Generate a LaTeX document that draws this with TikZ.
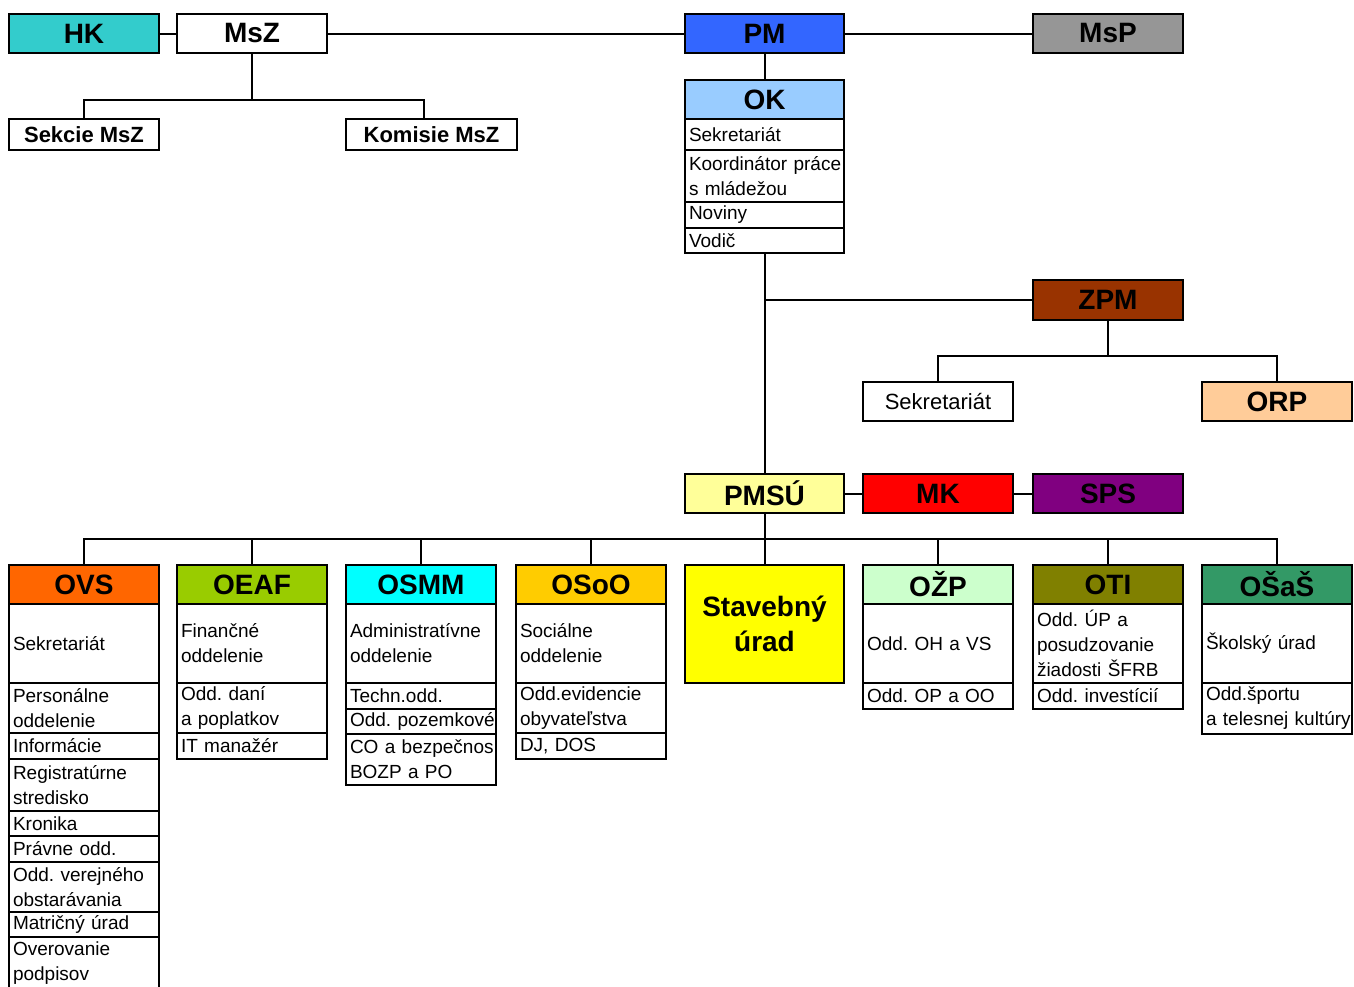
\documentclass[tikz,border=0pt]{standalone}
\usepackage{fontspec}
\setmainfont{Liberation Sans}
\definecolor{hkcol}{HTML}{33CCCC}
\definecolor{pmcol}{HTML}{3366FF}
\definecolor{mspcol}{HTML}{969696}
\definecolor{okcol}{HTML}{99CCFF}
\definecolor{zpmcol}{HTML}{993300}
\definecolor{orpcol}{HTML}{FFCC99}
\definecolor{pmsucol}{HTML}{FFFF99}
\definecolor{mkcol}{HTML}{FF0000}
\definecolor{spscol}{HTML}{800080}
\definecolor{ovscol}{HTML}{FF6600}
\definecolor{oeafcol}{HTML}{99CC00}
\definecolor{osmmcol}{HTML}{00FFFF}
\definecolor{osoocol}{HTML}{FFCC00}
\definecolor{stavcol}{HTML}{FFFF00}
\definecolor{ozpcol}{HTML}{CCFFCC}
\definecolor{oticol}{HTML}{808000}
\definecolor{osascol}{HTML}{339966}
\newcommand\hdfont{\bfseries\fontsize{28}{35}\selectfont}
\newcommand\subfont{\bfseries\fontsize{22}{26}\selectfont}
\newcommand\clfont{\frenchspacing\fontsize{19}{25}\selectfont}
\begin{document}
\begin{tikzpicture}[x=1pt,y=-1pt]
	\tikzset{head/.style = {draw,line width=2.6pt,anchor=north west,outer sep=0pt,minimum width=150pt,minimum height=39pt,inner sep=0pt,font=\hdfont}}
	\tikzset{sub/.style = {draw,line width=2.6pt,anchor=north west,outer sep=0pt,minimum width=150pt,minimum height=31pt,inner sep=0pt,font=\subfont}}
	\tikzset{cell/.style = {draw,line width=1.6pt,anchor=north west,outer sep=0pt,text width=142pt,inner xsep=4pt,inner ysep=0pt,align=left,font=\clfont}}
	\tikzset{frame/.style = {draw,line width=2.4pt}}
	\tikzset{link/.style = {draw,line width=2pt}}
	\useasboundingbox (0,0) rectangle (1354,986);
	\clip (0,0) rectangle (1354,986);
	% top row
	\node[head,fill=hkcol] (hk) at (9,14) {HK};
	\node[head] (msz) at (177,14) {MsZ};
	\node[head,fill=pmcol,minimum width=159pt] (pm) at (685,14) {PM};
	\node[head,fill=mspcol] (msp) at (1033,14) {MsP};
	\node[sub] (sekcie) at (9,119) {Sekcie MsZ};
	\node[sub,minimum width=171pt] (komisie) at (346,119) {Komisie MsZ};
	% OK
	\node[head,fill=okcol,minimum width=159pt,minimum height=39pt] (ok) at (685,80) {OK};
	\node[cell,text width=151pt,minimum height=31pt] (ok1) at (ok.south west) {Sekretariát};
	\node[cell,text width=151pt,minimum height=52pt] (ok2) at (ok1.south west) {Koordinátor~práce\\s mládežou};
	\node[cell,text width=151pt,minimum height=26pt] (ok3) at (ok2.south west) {Noviny};
	\node[cell,text width=151pt,minimum height=25pt] (ok4) at (ok3.south west) {Vodič};
	% ZPM
	\node[head,fill=zpmcol,minimum height=40pt] (zpm) at (1033,280) {ZPM};
	\node[sub,minimum height=39pt,font=\fontsize{22}{26}\selectfont] (sekr) at (863,382) {Sekretariát};
	\node[head,fill=orpcol] (orp) at (1202,382) {ORP};
	% PMSU row
	\node[head,fill=pmsucol,minimum width=159pt] (pmsu) at (685,474) {PMSÚ};
	\node[head,fill=mkcol] (mk) at (863,474) {MK};
	\node[head,fill=spscol] (sps) at (1033,474) {SPS};
	% OVS
	\node[head,fill=ovscol] (ovs) at (9,565) {OVS};
	\node[cell,minimum height=79pt] (ovs1) at (ovs.south west) {Sekretariát};
	\node[cell,minimum height=50pt] (ovs2) at (ovs1.south west) {Personálne\\oddelenie};
	\node[cell,minimum height=26pt] (ovs3) at (ovs2.south west) {Informácie};
	\node[cell,minimum height=52pt] (ovs4) at (ovs3.south west) {Registratúrne\\stredisko};
	\node[cell,minimum height=25pt] (ovs5) at (ovs4.south west) {Kronika};
	\node[cell,minimum height=26pt] (ovs6) at (ovs5.south west) {Právne odd.};
	\node[cell,minimum height=50pt] (ovs7) at (ovs6.south west) {Odd.~verejného\\obstarávania};
	\node[cell,minimum height=25pt] (ovs8) at (ovs7.south west) {Matričný úrad};
	\node[cell,minimum height=52pt] (ovs9) at (ovs8.south west) {Overovanie\\podpisov};
	% OEAF
	\node[head,fill=oeafcol] (oeaf) at (177,565) {OEAF};
	\node[cell,minimum height=79pt] (oeaf1) at (oeaf.south west) {Finančné\\oddelenie};
	\node[cell,minimum height=50pt] (oeaf2) at (oeaf1.south west) {Odd. daní\\a poplatkov};
	\node[cell,minimum height=26pt] (oeaf3) at (oeaf2.south west) {IT manažér};
	% OSMM
	\node[head,fill=osmmcol] (osmm) at (346,565) {OSMM};
	\node[cell,minimum height=79pt] (osmm1) at (osmm.south west) {Administratívne\\oddelenie};
	\node[cell,minimum height=26pt] (osmm2) at (osmm1.south west) {Techn.odd.};
	\node[cell,minimum height=25pt] (osmm3) at (osmm2.south west) {Odd.~pozemkové};
	\node[cell,minimum height=51pt] (osmm4) at (osmm3.south west) {CO~a~bezpečnos\\BOZP a PO};
	% OSoO
	\node[head,fill=osoocol] (osoo) at (516,565) {OSoO};
	\node[cell,minimum height=79pt] (osoo1) at (osoo.south west) {Sociálne\\oddelenie};
	\node[cell,minimum height=50pt] (osoo2) at (osoo1.south west) {Odd.evidencie\\obyvateľstva};
	\node[cell,minimum height=26pt] (osoo3) at (osoo2.south west) {DJ, DOS};
	% Stavebny urad
	\node[head,fill=stavcol,minimum width=159pt,minimum height=118pt,align=center] (stav) at (685,565) {Stavebný\\úrad};
	% OZP
	\node[head,fill=ozpcol] (ozp) at (863,565) {OŽP};
	\node[cell,minimum height=79pt] (ozp1) at (ozp.south west) {Odd. OH a VS};
	\node[cell,minimum height=26pt] (ozp2) at (ozp1.south west) {Odd. OP a OO};
	% OTI
	\node[head,fill=oticol] (oti) at (1033,565) {OTI};
	\node[cell,minimum height=79pt] (oti1) at (oti.south west) {Odd. ÚP a\\posudzovanie\\žiadosti ŠFRB};
	\node[cell,minimum height=26pt] (oti2) at (oti1.south west) {Odd. investícií};
	% OSaS
	\node[head,fill=osascol] (osas) at (1202,565) {OŠaŠ};
	\node[cell,minimum height=79pt] (osas1) at (osas.south west) {Školský úrad};
	\node[cell,minimum height=51pt] (osas2) at (osas1.south west) {Odd.športu\\a~telesnej~kultúry};
	% column frames
	\foreach \c/\e in {ok/ok4,ovs/ovs9,oeaf/oeaf3,osmm/osmm4,osoo/osoo3,ozp/ozp2,oti/oti2,osas/osas2}
		\draw[frame] (\c.north west) rectangle (\e.south east);
	% connectors
	\draw[link] (hk) -- (msz);
	\draw[link] (msz) -- (pm);
	\draw[link] (pm) -- (msp);
	\draw[link] (msz.south) -- ++(0,47) coordinate (mszbus);
	\draw[link] (sekcie.north) |- (mszbus) -| ([xshift=-8pt]komisie.north);
	\draw[link] (pm) -- (ok);
	\draw[link] (ok4.south) -- (pmsu.north);
	\draw[link] (zpm.west) -- (zpm.west -| pmsu.north);
	\draw[link] (zpm.south) -- ++(0,36) coordinate (zpmbus);
	\draw[link] (sekr.north) |- (zpmbus) -| (orp.north);
	\draw[link] (pmsu) -- (mk);
	\draw[link] (mk) -- (sps);
	\draw[link] (pmsu.south) -- ++(0,26) coordinate (bus);
	\foreach \c in {ovs,oeaf,osmm,osoo,stav,ozp,oti,osas}
		\draw[link] (\c.north) |- (bus);
\end{tikzpicture}
\end{document}
